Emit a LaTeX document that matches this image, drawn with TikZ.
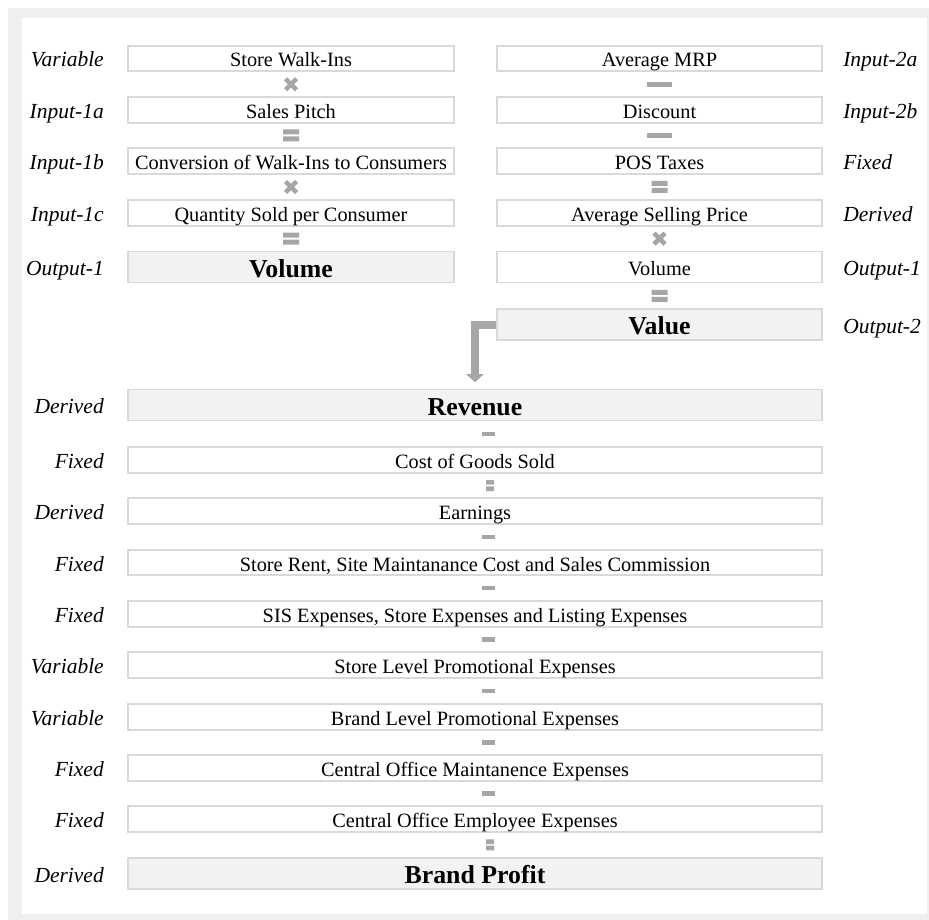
\documentclass[tikz,border=0pt]{standalone}
\usepackage{fontspec}
\setmainfont{Liberation Serif}
\usetikzlibrary{arrows.meta,positioning,calc}
\definecolor{framegray}{HTML}{EFEFEF}
\definecolor{cellline}{HTML}{D9D9D9}
\definecolor{keyfill}{HTML}{F2F2F2}
\definecolor{markgray}{HTML}{A6A6A6}

\begin{document}
\begin{tikzpicture}[
  x=1pt, y=-1pt,
  cell/.style={draw=cellline, line width=1.6pt, fill=white, inner sep=0pt,
               minimum height=25.5pt, text height=17pt, text depth=0pt,
               font=\fontsize{20.3}{22}\selectfont},
  lcell/.style={cell, minimum width=326.5pt},
  rcell/.style={cell, minimum width=325.5pt},
  wcell/.style={cell, minimum width=694.5pt},
  keycell/.style={fill=keyfill, minimum height=31pt, text height=20pt,
                  font=\fontsize{25.8}{28}\selectfont\bfseries},
  ltag/.style={inner sep=0pt, text height=17pt, text depth=0pt,
               font=\fontsize{21.5}{23}\selectfont\itshape},
  rtag/.style={ltag},
  flow/.style={draw=markgray, line width=8pt, shorten >=6.5pt,
               -{Triangle[width=17pt,length=8pt]}},
  timesmark/.pic={\draw[markgray, line width=4.5pt]
                  (-5.5,-5.5) -- (5.5,5.5) (-5.5,5.5) -- (5.5,-5.5);},
  minusmark/.pic={\fill[markgray] (-12.5,-2.5) rectangle (12.5,2.5);},
  equalmark/.pic={\fill[markgray] (-8,-6) rectangle (8,-1) (-8,1) rectangle (8,6);},
  minusmini/.pic={\fill[markgray] (-6.5,-2.2) rectangle (6.5,2.2);},
  equalmini/.pic={\fill[markgray] (-4,-5.5) rectangle (4,-0.8) (-4,0.8) rectangle (4,5.5);},
]
  \useasboundingbox (0,0) rectangle (929,920);
  % frame
  \fill[framegray] (8,8) rectangle (929,920);
  \fill[white] (22,18) rectangle (927,914);

  % volume build-up (left)
  \node[lcell] (walk) at (291,58.5) {Store Walk-Ins};
  \node[lcell] (pitch) at (291,110) {Sales Pitch};
  \node[lcell] (conv) at (291,161) {Conversion of Walk-Ins to Consumers};
  \node[lcell] (qty) at (291,213) {Quantity Sold per Consumer};
  \node[lcell, keycell] (vol) at (291,267) {Volume};

  \node[ltag, left=23pt of walk] (walk-t) {Variable};
  \node[ltag, left=23pt of pitch] (pitch-t) {Input-1a};
  \node[ltag, left=23pt of conv] (conv-t) {Input-1b};
  \node[ltag, left=23pt of qty] (qty-t) {Input-1c};
  \node[ltag, left=23pt of vol] (vol-t) {Output-1};

  \pic at ($(walk.south)!.5!(pitch.north)$) {timesmark};
  \pic at ($(pitch.south)!.5!(conv.north)$) {equalmark};
  \pic at ($(conv.south)!.5!(qty.north)$) {timesmark};
  \pic at ($(qty.south)!.5!(vol.north)$) {equalmark};

  % value build-up (right)
  \node[rcell] (mrp) at (659.5,58.5) {Average MRP};
  \node[rcell] (disc) at (659.5,110) {Discount};
  \node[rcell] (tax) at (659.5,161) {POS Taxes};
  \node[rcell] (asp) at (659.5,213) {Average Selling Price};
  \node[rcell, minimum height=31pt] (rvol) at (659.5,267) {Volume};
  \node[rcell, keycell] (val) at (659.5,324.5) {Value};

  \node[rtag, right=20pt of mrp] (mrp-t) {Input-2a};
  \node[rtag, right=20pt of disc] (disc-t) {Input-2b};
  \node[rtag, right=20pt of tax] (tax-t) {Fixed};
  \node[rtag, right=20pt of asp] (asp-t) {Derived};
  \node[rtag, right=20pt of rvol] (rvol-t) {Output-1};
  \node[rtag, right=20pt of val] (val-t) {Output-2};

  \pic at ($(mrp.south)!.5!(disc.north)$) {minusmark};
  \pic at ($(disc.south)!.5!(tax.north)$) {minusmark};
  \pic at ($(tax.south)!.5!(asp.north)$) {equalmark};
  \pic at ($(asp.south)!.5!(rvol.north)$) {timesmark};
  \pic at ($(rvol.south)!.5!(val.north)$) {equalmark};

  % profit waterfall (bottom)
  \node[wcell, keycell] (rev) at (475,405) {Revenue};
  \node[wcell] (cogs) at (475,460) {Cost of Goods Sold};
  \node[wcell] (earn) at (475,511) {Earnings};
  \node[wcell] (rent) at (475,562.5) {Store Rent, Site Maintanance Cost and Sales Commission};
  \node[wcell] (sis) at (475,614) {SIS Expenses, Store Expenses and Listing Expenses};
  \node[wcell] (slp) at (475,665) {Store Level Promotional Expenses};
  \node[wcell] (blp) at (475,717) {Brand Level Promotional Expenses};
  \node[wcell] (com) at (475,768) {Central Office Maintanence Expenses};
  \node[wcell] (coe) at (475,819) {Central Office Employee Expenses};
  \node[wcell, keycell] (bp) at (475,873.5) {Brand Profit};

  \node[ltag, left=23pt of rev] (rev-t) {Derived};
  \node[ltag, left=23pt of cogs] (cogs-t) {Fixed};
  \node[ltag, left=23pt of earn] (earn-t) {Derived};
  \node[ltag, left=23pt of rent] (rent-t) {Fixed};
  \node[ltag, left=23pt of sis] (sis-t) {Fixed};
  \node[ltag, left=23pt of slp] (slp-t) {Variable};
  \node[ltag, left=23pt of blp] (blp-t) {Variable};
  \node[ltag, left=23pt of com] (com-t) {Fixed};
  \node[ltag, left=23pt of coe] (coe-t) {Fixed};
  \node[ltag, left=23pt of bp] (bp-t) {Derived};

  \pic at ($(rev.south)!.5!(cogs.north)+(13,0)$) {minusmini};
  \pic at ($(cogs.south)!.5!(earn.north)+(15,0)$) {equalmini};
  \pic at ($(earn.south)!.5!(rent.north)+(13,0)$) {minusmini};
  \pic at ($(rent.south)!.5!(sis.north)+(13,0)$) {minusmini};
  \pic at ($(sis.south)!.5!(slp.north)+(13,0)$) {minusmini};
  \pic at ($(slp.south)!.5!(blp.north)+(13,0)$) {minusmini};
  \pic at ($(blp.south)!.5!(com.north)+(13,0)$) {minusmini};
  \pic at ($(com.south)!.5!(coe.north)+(13,0)$) {minusmini};
  \pic at ($(coe.south)!.5!(bp.north)+(15,0)$) {equalmini};

  % value feeds revenue
  \draw[flow] (val.west) -| (rev.north);
\end{tikzpicture}
\end{document}
